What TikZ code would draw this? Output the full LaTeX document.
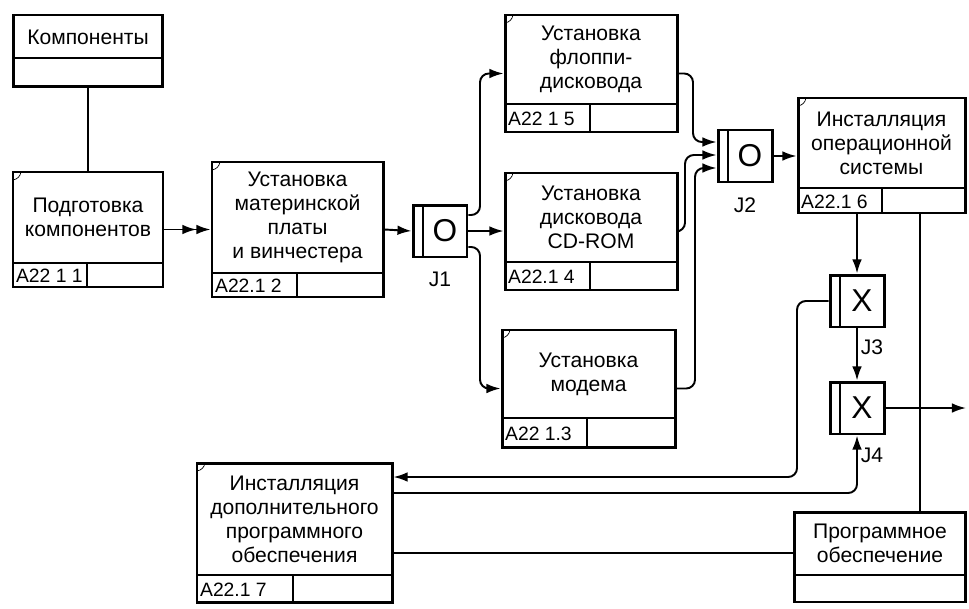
\documentclass[tikz,border=0pt]{standalone}
\usepackage{fontspec}
\setmainfont{Liberation Sans}
\usepackage{tikz}
\usetikzlibrary{positioning,arrows.meta}

% unit of behaviour box: name, left, top, right, bottom, divider y, divider x, text, number
\newcommand{\uobbox}[9]{%
  \node[uob, minimum width={(#4-#2)*0.02cm}, minimum height={(#5-#3)*0.02cm}] (#1) at ({(#2+#4)/2},{(#3+#5)/2}) {};
  \draw[divline] (#2,#6) -- (#4,#6) (#7,#6) -- (#7,#5);
  \draw[thin] (#2,{#3+8}) to[bend right=35] ({#2+8},#3);
  \node[boxtext] (#1-txt) at ({(#2+#4)/2},{(#3+#6)/2}) {#8};
  \node[idtext, anchor=west] (#1-id) at ({#2+1},{(#6+#5)/2+1}) {#9};
}
% junction: name, left, top, type
\newcommand{\junction}[4]{%
  \node[jbox] (#1) at ({#2+27},{#3+26}) {};
  \draw[divline] ({#2+10},#3) -- ({#2+10},{#3+52});
  \node[jletter] (#1-type) at ({#2+32},{#3+26}) {#4};
}

\begin{document}
\begin{tikzpicture}[
    x=0.02cm, y=-0.02cm,
    uob/.style={rectangle, draw, line width=1.7pt, inner sep=0pt},
    jbox/.style={rectangle, draw, line width=1.7pt, inner sep=0pt, minimum width=1.08cm, minimum height=1.04cm},
    divline/.style={line width=1.3pt},
    conn/.style={line width=1.1pt, rounded corners=5pt},
    boxtext/.style={font=\fontsize{12}{13.6}\selectfont, align=center, inner sep=0pt},
    idtext/.style={font=\fontsize{11}{12}\selectfont, inner sep=1pt},
    jletter/.style={font=\fontsize{18}{18}\selectfont, inner sep=0pt},
    jlabel/.style={font=\fontsize{12}{12}\selectfont, inner sep=0pt},
    >={Latex[length=8pt,width=5.5pt]}
]
\useasboundingbox (0,0) rectangle (969,608);

% объекты
\node[uob, minimum width=3cm, minimum height=1.44cm] (komp) at (88,51) {};
\draw[divline] (13,58) -- (163,58);
\node[boxtext] (komp-txt) at (88,37) {Компоненты};

\node[uob, minimum width=3.42cm, minimum height=1.8cm] (prog) at (880,557) {};
\draw[divline] (795,575) -- (965,575);
\node[boxtext] (prog-txt) at (880,543) {Программное\\обеспечение};

% работы
\uobbox{podg}{13}{172}{163}{287}{263}{87}{Подготовка\\компонентов}{A22 1 1}
\uobbox{mat}{212}{162}{383}{297}{273}{297}{Установка\\материнской\\платы\\и винчестера}{A22.1 2}
\uobbox{flop}{505}{15}{677}{132}{104}{590}{Установка\\флоппи-\\дисковода}{A22 1 5}
\uobbox{cd}{505}{173}{677}{290}{262}{590}{Установка\\дисковода\\CD-ROM}{A22.1 4}
\uobbox{mod}{502}{330}{675}{447}{418}{587}{Установка\\модема}{A22 1.3}
\uobbox{os}{798}{98}{965}{213}{188}{882}{Инсталляция\\операционной\\системы}{A22.1 6}
\uobbox{dop}{197}{463}{392}{602}{575}{293}{Инсталляция\\дополнительного\\программного\\обеспечения}{A22.1 7}

% перекрёстки
\junction{J1}{413}{205}{O}
\junction{J2}{718}{130}{O}
\junction{J3}{830}{275}{X}
\junction{J4}{830}{382}{X}
\node[jlabel] at (440,279) {J1};
\node[jlabel] at (745,205) {J2};
\node[jlabel] at (872,347) {J3};
\node[jlabel] at (872,455) {J4};

% связи
\draw[conn] (komp.south) -- (podg.north);
\draw[conn,->>] (podg.east) -- (mat.west);
\draw[conn,->] (mat.east) -- (J1.west);
\draw[conn,->] (J1.east) -- (J1.east -| cd.west);
\draw[conn,->] (J1.east |- 0,215) -| (480,150) |- (flop.west);
\draw[conn,->] (J1.east |- 0,247) -| (480,300) |- (mod.west);
\draw[conn,->] (flop.east) -| (693,100) |- (J2.west |- 0,142);
\draw[conn,->] (cd.east) -| (685,200) |- (J2.west |- 0,155);
\draw[conn,->] (mod.east) -| (695,300) |- (J2.west |- 0,168);
\draw[conn,->] (J2.east) -- (J2.east -| os.west);
\draw[conn,->] (J3.north |- os.south) -- (J3.north);
\draw[conn,->] (J3.south) -- (J4.north);
\draw[conn,->] (J3.west) -| (797,400) |- (dop.east |- 0,477);
\draw[conn,->] (dop.east |- 0,493) -| (J4.south);
\coordinate (out) at (966,408);
\draw[conn,->] (J4.east) -- (J4.east -| out);
\coordinate (swlink) at (920,0);
\draw[conn] (os.south -| swlink) -- (prog.north -| swlink);
\draw[conn] (prog.west |- 0,553) -- (dop.east |- 0,553);

\end{tikzpicture}
\end{document}
